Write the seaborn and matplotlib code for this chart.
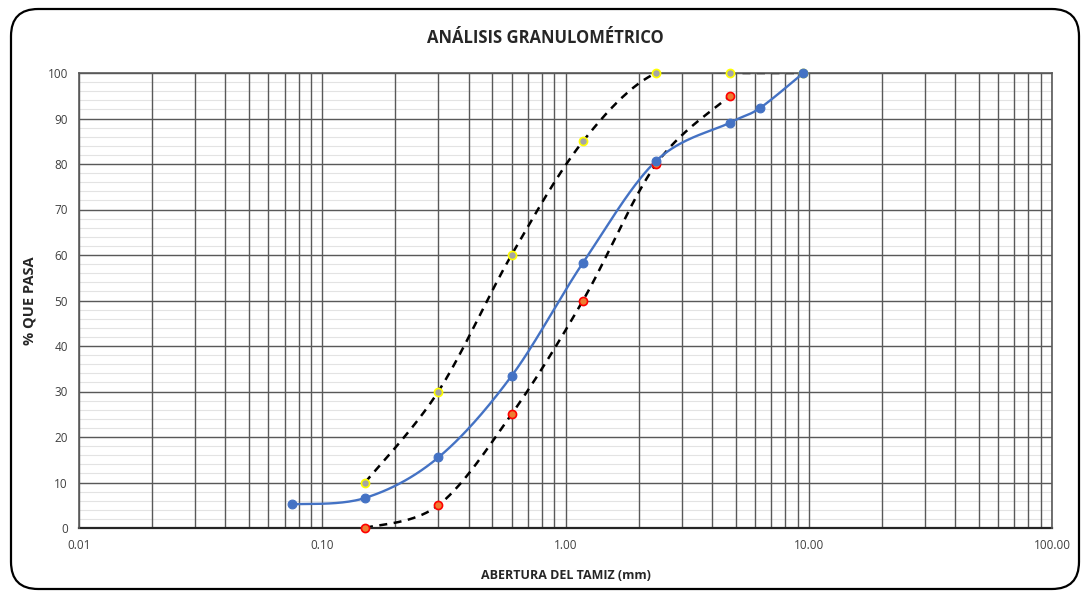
import numpy as np
import pandas as pd
import matplotlib
matplotlib.use('Agg')
import matplotlib.pyplot as plt
import seaborn as sns
from matplotlib.patches import FancyBboxPatch
from matplotlib.ticker import FixedLocator, FixedFormatter, LogLocator, NullFormatter

# Data: sieve openings (mm) and percent passing
sieve_sample = [0.075, 0.15, 0.30, 0.60, 1.18, 2.36, 4.75, 6.30, 9.50]
pass_sample = [5.2, 6.6, 15.5, 33.4, 58.3, 80.7, 89.1, 92.3, 100.0]

sieve_upper = [0.15, 0.30, 0.60, 1.18, 2.36, 4.75, 9.50]
pass_upper = [10, 30, 60, 85, 100, 100, 100]

sieve_lower = [0.15, 0.30, 0.60, 1.18, 2.36, 4.75]
pass_lower = [0, 5, 25, 50, 80, 95]

x_ticks = [0.01, 0.1, 1, 10, 100]
x_ticklabels = ['0.01', '0.10', '1.00', '10.00', '100.00']


def smooth(xs, ys, n=40):
    # Excel-like smoothed line (Catmull-Rom through the points, log-x space)
    u = np.log10(xs) * 243.0
    v = np.asarray(ys, dtype=float) * 4.55
    pts = np.column_stack([u, v])
    out = []
    for i in range(len(pts) - 1):
        p0 = pts[i - 1] if i > 0 else pts[i]
        p1 = pts[i]
        p2 = pts[i + 1]
        p3 = pts[i + 2] if i + 2 < len(pts) else pts[i + 1]
        c1 = p1 + (p2 - p0) / 6.0
        c2 = p2 - (p3 - p1) / 6.0
        t = np.linspace(0, 1, n)[:, None]
        seg = ((1 - t) ** 3) * p1 + 3 * ((1 - t) ** 2) * t * c1 + 3 * (1 - t) * t ** 2 * c2 + t ** 3 * p2
        out.append(seg if i == 0 else seg[1:])
    out = np.vstack(out)
    return pd.DataFrame({'x': 10 ** (out[:, 0] / 243.0), 'y': out[:, 1] / 4.55})


sns.set_theme(style='white')
plt.rcParams['font.family'] = ['Open Sans', 'DejaVu Sans']

fig = plt.figure(figsize=(10.87, 5.97), dpi=100)
ax = fig.add_axes([79 / 1087, 1 - 528 / 597, (1052 - 79) / 1087, (528 - 73) / 597])

# rounded chart frame
frame = FancyBboxPatch((11 / 1087, 8 / 597), 1068 / 1087, 580 / 597,
                       boxstyle='round,pad=0,rounding_size=0.025',
                       transform=fig.transFigure, facecolor='none',
                       edgecolor='black', linewidth=1.6, mutation_aspect=1087 / 597)
fig.patches.append(frame)

ax.set_xscale('log')
ax.set_xlim(0.01, 100)
ax.set_ylim(0, 100)

# grids: light minor horizontals underneath, dark majors + log verticals on top
ax.hlines(np.arange(0, 101, 2), 0.01, 100, color='#e3e3e3', linewidth=0.8, zorder=0.1)
ax.xaxis.set_major_locator(FixedLocator(x_ticks))
ax.xaxis.set_major_formatter(FixedFormatter(x_ticklabels))
ax.xaxis.set_minor_locator(LogLocator(base=10, subs=np.arange(2, 10)))
ax.xaxis.set_minor_formatter(NullFormatter())
ax.set_yticks(np.arange(0, 101, 10))
ax.grid(which='major', axis='both', color='#595959', linewidth=1.0)
ax.grid(which='minor', axis='x', color='#595959', linewidth=1.0)
ax.set_axisbelow(True)
ax.tick_params(which='both', length=0)
ax.tick_params(axis='both', labelsize=8.5, colors='#404040', pad=8)
for s in ['top', 'right', 'left']:
    ax.spines[s].set_color('#595959')
    ax.spines[s].set_linewidth(1.2)
    ax.spines[s].set_zorder(3)
ax.spines['bottom'].set_color('#262626')
ax.spines['bottom'].set_linewidth(1.6)

# curves
sns.lineplot(data=smooth(sieve_upper, pass_upper), x='x', y='y', ax=ax, color='black',
             linewidth=1.8, linestyle=(0, (3.2, 2.6)), sort=False, zorder=2)
sns.lineplot(data=smooth(sieve_lower, pass_lower), x='x', y='y', ax=ax, color='black',
             linewidth=1.8, linestyle=(0, (3.2, 2.6)), sort=False, zorder=2)
sns.lineplot(data=smooth(sieve_sample, pass_sample), x='x', y='y', ax=ax, color='#4472C4',
             linewidth=1.7, sort=False, zorder=4)

sns.scatterplot(x=sieve_lower, y=pass_lower, ax=ax, s=34, color='#ED7D31',
                edgecolor='#FF0000', linewidth=1.2, zorder=5, clip_on=False)
sns.scatterplot(x=sieve_upper, y=pass_upper, ax=ax, s=34, color='#A5A5A5',
                edgecolor='#FFFF00', linewidth=1.2, zorder=5, clip_on=False)
sns.scatterplot(x=sieve_sample, y=pass_sample, ax=ax, s=40, color='#4472C4',
                edgecolor='#4472C4', linewidth=0.8, zorder=6, clip_on=False)

ax.set_xlabel('ABERTURA DEL TAMIZ (mm)', fontsize=9, fontweight='bold', color='#262626', labelpad=12)
ax.set_ylabel('% QUE PASA', fontsize=10.5, fontweight='bold', color='#262626')
ax.yaxis.set_label_coords(-43 / 973, 0.5)
fig.text(545 / 1087, 1 - 38 / 597, 'ANÁLISIS GRANULOMÉTRICO', ha='center', va='center',
         fontsize=12, fontweight='bold', color='#262626')

fig.savefig('out.png', dpi=100, facecolor='white')
